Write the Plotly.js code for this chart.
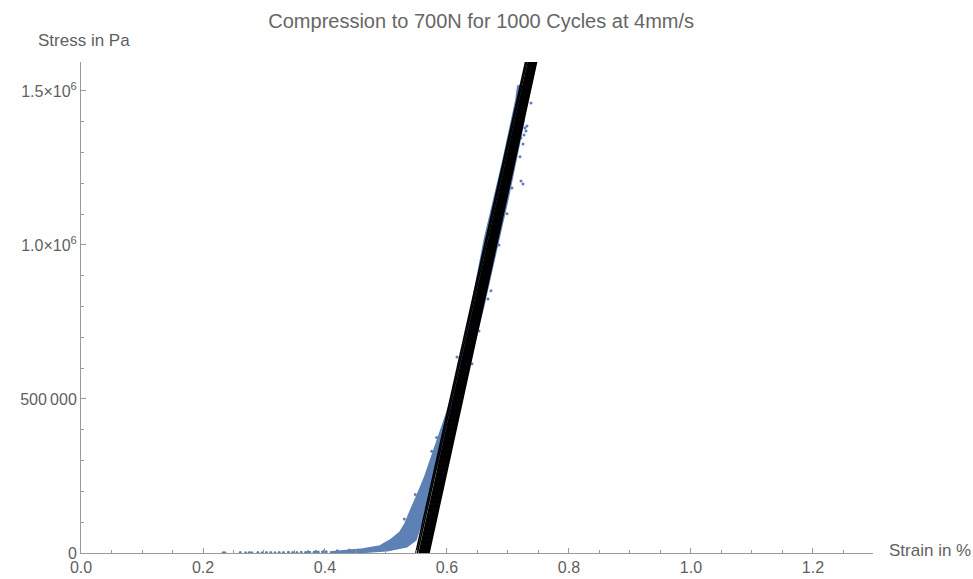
<!DOCTYPE html>
<html>
<head>
<meta charset="utf-8">
<script src="https://cdn.plot.ly/plotly-3.0.1.min.js"></script>
<style>html,body{margin:0;padding:0;background:#fff;}#chart{width:973px;height:579px;}</style>
</head>
<body>
<div id="chart"></div>
<script>
// ---- data ----
// linear fit lines per cycle: strain at zero stress and at 1.6e6 Pa
var lineStrainAtZero = [0.5490, 0.5515, 0.5545, 0.5562, 0.5578, 0.5594, 0.5610, 0.5626, 0.5642, 0.5658, 0.5674, 0.5690, 0.5705];
var lineStrainAtTop  = [0.7295, 0.7315, 0.7340, 0.7355, 0.7370, 0.7385, 0.7400, 0.7415, 0.7430, 0.7445, 0.7458, 0.7467, 0.7475];
var lineStressLow = 0;
var lineStressTop = 1600000;

// measured data cloud: upper (left) boundary
var bandUpperStrain = [0.408, 0.462, 0.490, 0.507, 0.523, 0.531, 0.539, 0.548, 0.556, 0.564, 0.572, 0.580, 0.590, 0.600, 0.610, 0.633, 0.661, 0.692, 0.713, 0.716, 0.726];
var bandUpperStress = [3250, 13000, 22700, 42200, 68200, 94200, 133000, 172000, 211000, 250000, 295000, 347000, 399000, 458000, 526000, 724000, 1016000, 1276000, 1471000, 1516000, 1516000];
// lower (right) boundary, top to bottom
var bandLowerStrain = [0.726, 0.700, 0.660, 0.630, 0.618, 0.608, 0.593, 0.577, 0.567, 0.556, 0.549, 0.534, 0.502, 0.462, 0.408];
var bandLowerStress = [1400000, 1150000, 800000, 560000, 529000, 455000, 344000, 237000, 149000, 84400, 42200, 20000, 7000, 2000, 0];

// sparse points in the toe region
var tailStrain = [0.233, 0.236, 0.261, 0.270, 0.276, 0.280, 0.290, 0.297, 0.304, 0.311, 0.318, 0.325, 0.332, 0.340, 0.347, 0.354, 0.361, 0.368, 0.375, 0.382, 0.389, 0.396, 0.402, 0.372, 0.385, 0.398, 0.420, 0.440];
var tailStress = [1200, 1200, 1500, 1200, 1800, 1200, 1500, 1200, 1800, 1500, 1200, 1800, 1500, 2200, 1500, 1800, 2500, 1800, 2800, 2200, 3000, 3500, 4000, 3800, 4500, 5500, 7500, 9500];

// scattered outliers
var outStrain = [0.7377, 0.7246, 0.7197, 0.7213, 0.7246, 0.7066, 0.6984, 0.6852, 0.7230, 0.7279, 0.7295, 0.7262, 0.7213, 0.7311, 0.6721, 0.6672, 0.6525, 0.6410, 0.6164, 0.7164, 0.7197, 0.7246, 0.7180, 0.7230, 0.5750, 0.5830, 0.5480, 0.5300];
var outStress = [1461000, 1328000, 1286000, 1208000, 1198000, 1185000, 1101000, 1000000, 1390000, 1380000, 1370000, 1357000, 1347000, 1386000, 851000, 825000, 721000, 614000, 636000, 1497000, 1516000, 1510000, 1440000, 1420000, 330000, 375000, 190000, 110000];

var xTickVals = [0, 0.2, 0.4, 0.6, 0.8, 1.0, 1.2];
var xTickText = ["0.0", "0.2", "0.4", "0.6", "0.8", "1.0", "1.2"];
var yTickVals = [0, 500000, 1000000, 1500000];
var yTickText = ["0", "500\u2009000", "1.0\u00d710<sup>6</sup>", "1.5\u00d710<sup>6</sup>"];

// ---- build traces ----
var blue = '#5E81B5';
var bandX = bandUpperStrain.concat(bandLowerStrain);
var bandY = bandUpperStress.concat(bandLowerStress);

var lx = [], ly = [];
for (var i = 0; i < lineStrainAtZero.length; i++) {
  lx.push(lineStrainAtZero[i], lineStrainAtTop[i], null);
  ly.push(lineStressLow, lineStressTop, null);
}

var traces = [
  {x: bandX, y: bandY, type: 'scatter', mode: 'lines', fill: 'toself', fillcolor: blue,
   line: {color: blue, width: 1.5}, hoverinfo: 'skip'},
  {x: tailStrain, y: tailStress, type: 'scatter', mode: 'markers', marker: {color: blue, size: 3}, hoverinfo: 'skip'},
  {x: outStrain, y: outStress, type: 'scatter', mode: 'markers', marker: {color: blue, size: 3}, hoverinfo: 'skip'},
  {x: lx, y: ly, type: 'scatter', mode: 'lines', line: {color: '#000', width: 1.6}, hoverinfo: 'skip'}
];

var axisGray = '#9a9a9a';
var textGray = '#5f5f5f';
var layout = {
  width: 973, height: 579,
  margin: {l: 81, r: 100, t: 62, b: 26},
  paper_bgcolor: '#fff', plot_bgcolor: '#fff',
  showlegend: false,
  font: {family: 'Liberation Sans, Arial, sans-serif', size: 16, color: textGray},
  title: {text: 'Compression to 700N for 1000 Cycles at 4mm/s', x: 0.4945, xanchor: 'center', y: 0.963, yanchor: 'middle',
          font: {size: 20, color: '#666'}},
  xaxis: {range: [0, 1.2984], showgrid: false, zeroline: false, showline: true, linecolor: axisGray, linewidth: 1,
          ticks: 'inside', ticklen: 5, tickcolor: axisGray, tickvals: xTickVals, ticktext: xTickText,
          tickfont: {size: 16, color: textGray},
          minor: {ticks: 'inside', ticklen: 3, tickcolor: axisGray, dtick: 0.05, tick0: 0, showgrid: false}},
  yaxis: {range: [0, 1594000], showgrid: false, zeroline: false, showline: true, linecolor: axisGray, linewidth: 1,
          ticks: 'inside', ticklen: 5, tickcolor: axisGray, tickvals: yTickVals, ticktext: yTickText,
          tickfont: {size: 16, color: textGray},
          minor: {ticks: 'inside', ticklen: 3, tickcolor: axisGray, dtick: 100000, tick0: 0, showgrid: false}},
  annotations: [
    {text: 'Stress in Pa', xref: 'paper', yref: 'paper', x: -0.057, y: 1.043, xanchor: 'left', yanchor: 'middle',
     showarrow: false, font: {size: 17, color: textGray}},
    {text: 'Strain in %', xref: 'paper', yref: 'paper', x: 1.018, y: 0.006, xanchor: 'left', yanchor: 'middle',
     showarrow: false, font: {size: 17, color: textGray}}
  ]
};

Plotly.newPlot('chart', traces, layout, {displayModeBar: false, staticPlot: true});
</script>
</body>
</html>
